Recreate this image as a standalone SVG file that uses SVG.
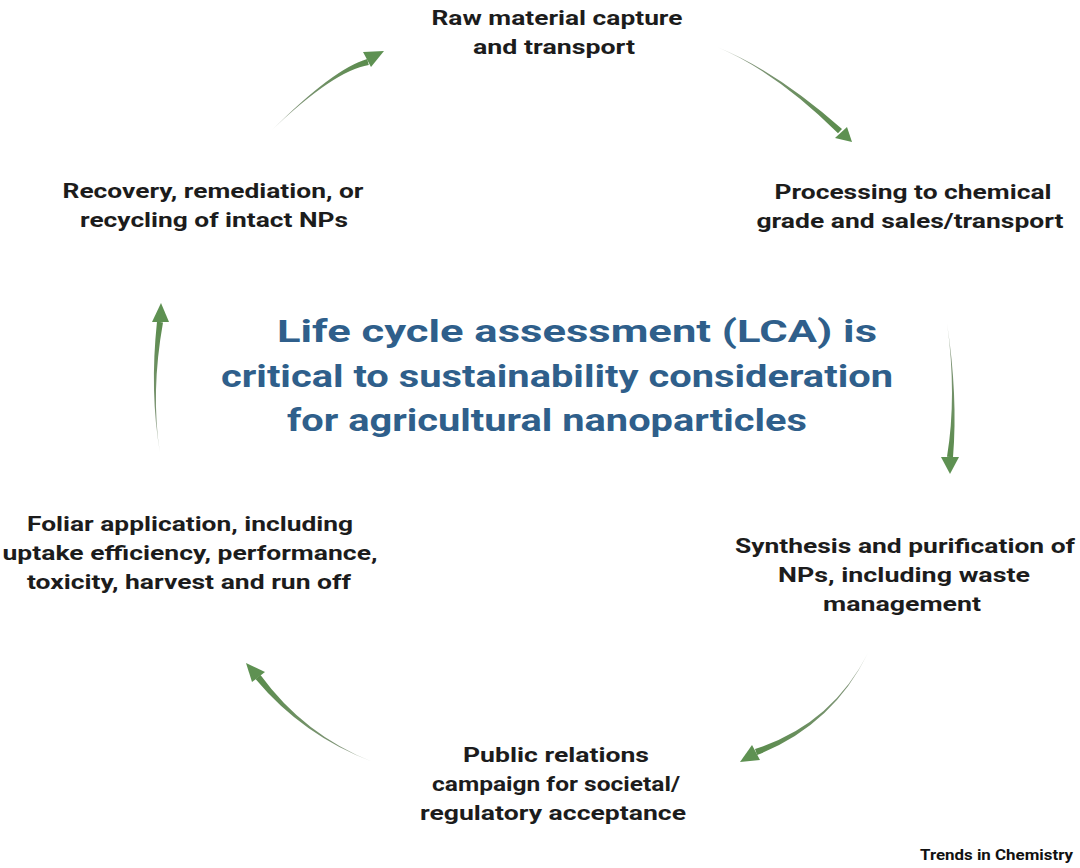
<svg xmlns="http://www.w3.org/2000/svg" width="1080" height="868" viewBox="0 0 1080 868">
<defs>
<style>
.lbl{font-family:Roboto,"Liberation Sans",sans-serif;font-weight:700;font-size:21px;fill:#1c1c1c;text-anchor:middle}
.ttl{font-family:Roboto,"Liberation Sans",sans-serif;font-weight:700;font-size:31px;fill:#2f5f8b;text-anchor:middle}
.head{fill:#5e9152}
.credit{font-family:Roboto,"Liberation Sans",sans-serif;font-weight:700;font-size:15px;fill:#111;text-anchor:end}
</style>
<linearGradient id="g1" gradientUnits="userSpaceOnUse" x1="272" y1="130" x2="368" y2="62"><stop offset="0" stop-color="#d6dad4"/><stop offset="0.25" stop-color="#7f9477"/><stop offset="1" stop-color="#5b8c4d"/></linearGradient>
<linearGradient id="g2" gradientUnits="userSpaceOnUse" x1="717" y1="47" x2="840" y2="131"><stop offset="0" stop-color="#d6dad4"/><stop offset="0.25" stop-color="#7f9477"/><stop offset="1" stop-color="#5b8c4d"/></linearGradient>
<linearGradient id="g3" gradientUnits="userSpaceOnUse" x1="947" y1="323" x2="950" y2="457"><stop offset="0" stop-color="#d6dad4"/><stop offset="0.25" stop-color="#7f9477"/><stop offset="1" stop-color="#5b8c4d"/></linearGradient>
<linearGradient id="g4" gradientUnits="userSpaceOnUse" x1="868" y1="653" x2="756" y2="752"><stop offset="0" stop-color="#d6dad4"/><stop offset="0.25" stop-color="#7f9477"/><stop offset="1" stop-color="#5b8c4d"/></linearGradient>
<linearGradient id="g5" gradientUnits="userSpaceOnUse" x1="373" y1="762" x2="258" y2="677"><stop offset="0" stop-color="#d6dad4"/><stop offset="0.25" stop-color="#7f9477"/><stop offset="1" stop-color="#5b8c4d"/></linearGradient>
<linearGradient id="g6" gradientUnits="userSpaceOnUse" x1="160" y1="453" x2="160" y2="322"><stop offset="0" stop-color="#d6dad4"/><stop offset="0.25" stop-color="#7f9477"/><stop offset="1" stop-color="#5b8c4d"/></linearGradient>
</defs>
<rect width="1080" height="868" fill="#ffffff"/>

<g id="connectors">
  <path d="M272,130 Q334.2,70.5 368.8,65 L367.2,59 Q333.8,68.5 272,130 Z" fill="url(#g1)"/>
  <polygon class="head" points="384,51 363,52 371,67"/>
  <path d="M717,47 Q775.5,71.5 838,133.2 L842,129 Q775.5,70.5 717,47 Z" fill="url(#g2)"/>
  <polygon class="head" points="852,142 835,138 847,127"/>
  <path d="M947,323 Q958,396 953,457.3 L947,456.7 Q957,396 947,323 Z" fill="url(#g3)"/>
  <polygon class="head" points="950,474 941,457 959,457"/>
  <path d="M868,653 Q832.5,725.5 757,755 L755,749 Q831.5,724.5 868,653 Z" fill="url(#g4)"/>
  <polygon class="head" points="740,762 752,745 760,760"/>
  <path d="M373,762 Q304.2,735 260.5,675 L255.5,679 Q303.2,736 373,762 Z" fill="url(#g5)"/>
  <polygon class="head" points="246,663 265,672 252,682"/>
  <path d="M160,453 Q150.5,392.5 163,322.4 L157,321.6 Q149.5,392.5 160,453 Z" fill="url(#g6)"/>
  <polygon class="head" points="161,303 152,322 169,322"/>
</g>

<g id="raw-material">
  <text class="lbl" x="557" y="25" textLength="251" lengthAdjust="spacingAndGlyphs">Raw material capture</text>
  <text class="lbl" x="554" y="54" textLength="162" lengthAdjust="spacingAndGlyphs">and transport</text>
</g>
<g id="processing">
  <text class="lbl" x="913" y="199" textLength="277" lengthAdjust="spacingAndGlyphs">Processing to chemical</text>
  <text class="lbl" x="910" y="228" textLength="307" lengthAdjust="spacingAndGlyphs">grade and sales/transport</text>
</g>
<g id="synthesis">
  <text class="lbl" x="905" y="553" textLength="340" lengthAdjust="spacingAndGlyphs">Synthesis and purification of</text>
  <text class="lbl" x="904" y="582" textLength="252" lengthAdjust="spacingAndGlyphs">NPs, including waste</text>
  <text class="lbl" x="902" y="611" textLength="158" lengthAdjust="spacingAndGlyphs">management</text>
</g>
<g id="public-relations">
  <text class="lbl" x="556" y="762" textLength="186" lengthAdjust="spacingAndGlyphs">Public relations</text>
  <text class="lbl" x="556" y="791" textLength="248" lengthAdjust="spacingAndGlyphs">campaign for societal/</text>
  <text class="lbl" x="553" y="820" textLength="266" lengthAdjust="spacingAndGlyphs">regulatory acceptance</text>
</g>
<g id="foliar">
  <text class="lbl" x="190" y="531" textLength="326" lengthAdjust="spacingAndGlyphs">Foliar application, including</text>
  <text class="lbl" x="190" y="560" textLength="375" lengthAdjust="spacingAndGlyphs">uptake efficiency, performance,</text>
  <text class="lbl" x="189" y="589" textLength="324" lengthAdjust="spacingAndGlyphs">toxicity, harvest and run off</text>
</g>
<g id="recovery">
  <text class="lbl" x="213" y="198" textLength="301" lengthAdjust="spacingAndGlyphs">Recovery, remediation, or</text>
  <text class="lbl" x="214" y="227" textLength="268" lengthAdjust="spacingAndGlyphs">recycling of intact NPs</text>
</g>
<g id="title">
  <text class="ttl" x="577" y="342" textLength="600" lengthAdjust="spacingAndGlyphs">Life cycle assessment (LCA) is</text>
  <text class="ttl" x="557" y="387" textLength="672" lengthAdjust="spacingAndGlyphs">critical to sustainability consideration</text>
  <text class="ttl" x="547" y="431" textLength="520" lengthAdjust="spacingAndGlyphs">for agricultural nanoparticles</text>
</g>
<text class="credit" x="1073" y="860" textLength="153" lengthAdjust="spacingAndGlyphs">Trends in Chemistry</text>
</svg>
